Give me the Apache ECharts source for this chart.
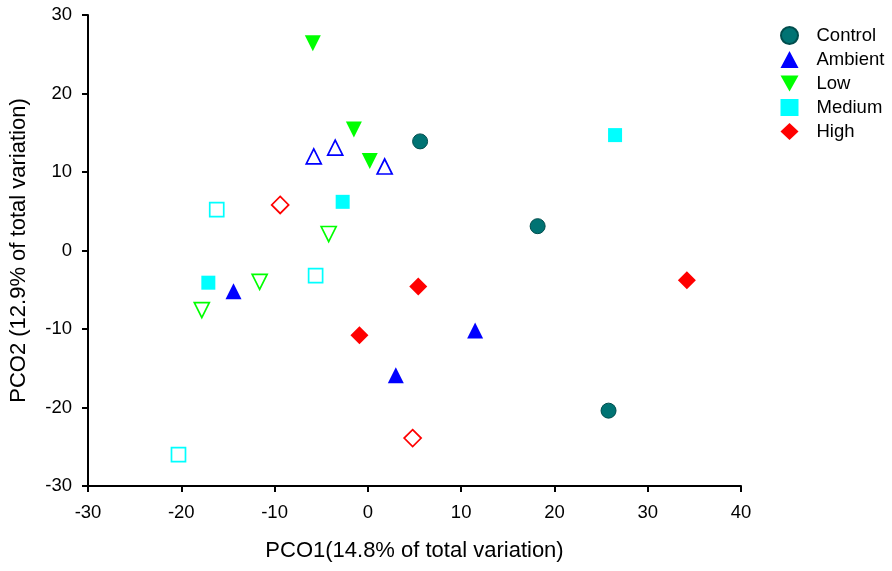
<!DOCTYPE html>
<html>
<head>
<meta charset="utf-8">
<script src="https://cdn.jsdelivr.net/npm/echarts@6/dist/echarts.min.js"></script>
<style>
  html, body { margin: 0; padding: 0; background: #fff; }
  #main { width: 892px; height: 571px; }
</style>
</head>
<body>
<div id="main"></div>
<script>
var groups = ['Control', 'Ambient', 'Low', 'Medium', 'High'];

// filled points [PCO1, PCO2]
var control = [[5.6, 13.9], [18.2, 3.1], [25.8, -20.4]];
var ambient = [[-14.4, -5.2], [3.0, -15.9], [11.5, -10.2]];
var low = [[-5.9, 26.4], [-1.5, 15.4], [0.2, 11.4]];
var medium = [[-17.1, -4.1], [-2.7, 6.2], [26.5, 14.7]];
var high = [[5.4, -4.6], [-0.9, -10.8], [34.2, -3.8]];

// open points
var ambientOpen = [[-5.8, 12.0], [-3.5, 13.1], [1.8, 10.7]];
var lowOpen = [[-4.2, 2.1], [-11.6, -4.0], [-17.8, -7.6]];
var mediumOpen = [[-16.2, 5.2], [-5.6, -3.2], [-20.3, -26.0]];
var highOpen = [[-9.4, 5.8], [4.8, -23.9]];

var xTicks = { min: -30, max: 40, interval: 10 };
var yTicks = { min: -30, max: 30, interval: 10 };

var myChart = echarts.init(document.getElementById('main'));

var font = 'Liberation Sans, Arial, sans-serif';
var downTri = 'path://M0,0L10,0L5,9Z';

function filled(name, data, symbol, color, size, border, rotate) {
    return {
        name: name,
        type: 'scatter',
        data: data,
        symbol: symbol,
        symbolSize: size,
        symbolRotate: rotate || 0,
        itemStyle: { color: color, borderColor: border || color, borderWidth: border ? 1 : 0, opacity: 1 },
        emphasis: { disabled: true },
        z: 3
    };
}

function open(name, data, symbol, color, size, rotate) {
    return {
        name: name,
        type: 'scatter',
        data: data,
        symbol: symbol,
        symbolSize: size,
        symbolRotate: rotate || 0,
        itemStyle: { color: '#ffffff', borderColor: color, borderWidth: 1.7, opacity: 1 },
        emphasis: { disabled: true },
        z: 2
    };
}

var option = {
    animation: false,
    backgroundColor: '#ffffff',
    grid: { left: 88, right: 151, top: 15, bottom: 85 },
    legend: {
        data: [
            { name: groups[0] },
            { name: groups[1] },
            { name: groups[2], icon: downTri },
            { name: groups[3] },
            { name: groups[4] }
        ],
        orient: 'vertical',
        left: 775,
        top: 21,
        itemWidth: 18,
        itemHeight: 17,
        itemGap: 5,
        textStyle: { fontFamily: font, fontSize: 18.5, color: '#000', padding: [0, 0, 0, 13] },
        selectedMode: false
    },
    xAxis: {
        type: 'value',
        min: xTicks.min, max: xTicks.max, interval: xTicks.interval,
        name: 'PCO1(14.8% of total variation)',
        nameLocation: 'middle',
        nameGap: 54,
        nameTextStyle: { fontFamily: font, fontSize: 22, color: '#000' },
        axisLine: { onZero: false, lineStyle: { color: '#000', width: 2 } },
        axisTick: { show: true, length: 6, lineStyle: { color: '#000', width: 2 } },
        axisLabel: { fontFamily: font, fontSize: 18.5, color: '#000', margin: 17 },
        splitLine: { show: false }
    },
    yAxis: {
        type: 'value',
        min: yTicks.min, max: yTicks.max, interval: yTicks.interval,
        name: 'PCO2 (12.9% of total variation)',
        nameLocation: 'middle',
        nameGap: 58,
        nameTextStyle: { fontFamily: font, fontSize: 22, color: '#000' },
        axisLine: { show: true, onZero: false, lineStyle: { color: '#000', width: 2 } },
        axisTick: { show: true, length: 6, lineStyle: { color: '#000', width: 2 } },
        axisLabel: { fontFamily: font, fontSize: 18.5, color: '#000', margin: 16 },
        splitLine: { show: false }
    },
    series: [
        filled('Control', control, 'circle', '#007373', 15, '#004d4d'),
        filled('Ambient', ambient, 'triangle', '#0000ff', 16),
        filled('Low', low, 'triangle', '#00ff00', 16, null, 180),
        filled('Medium', medium, 'rect', '#00ffff', 14),
        filled('High', high, 'diamond', '#ff0000', 18),
        open('Ambient open', ambientOpen, 'triangle', '#0000ff', 15),
        open('Low open', lowOpen, 'triangle', '#00ff00', 15, 180),
        open('Medium open', mediumOpen, 'rect', '#00ffff', 14),
        open('High open', highOpen, 'diamond', '#ff0000', 17)
    ]
};

myChart.setOption(option);
</script>
</body>
</html>
